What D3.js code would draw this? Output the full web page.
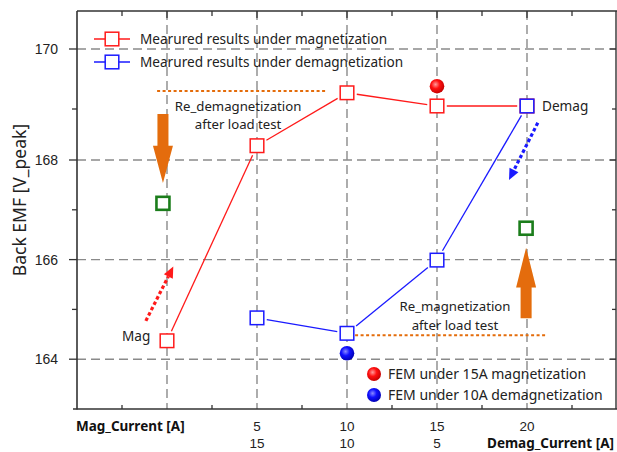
<!DOCTYPE html>
<html><head><meta charset="utf-8">
<script src="https://cdn.jsdelivr.net/npm/d3@7"></script>
<style>
html,body{margin:0;padding:0;background:#fff;}
svg{display:block;}
</style></head>
<body>
<svg id="c" width="617" height="452"></svg>
<script>
// ---- data ----
const catIndex = [0, 1, 2, 3, 4];
const magTickLabels = ["", "5", "10", "15", "20"];
const demagTickLabels = ["", "15", "10", "5", ""];
const magX = [0, 1, 2, 3, 4];
const magValues = [164.37, 168.28, 169.27, 169.05, 169.05];
const demagX = [1, 2, 3, 4];
const demagValues = [164.83, 164.52, 165.99, 169.05];
const greenX = [-0.045, 3.99];
const greenValues = [167.13, 166.63];
const femMagX = [3], femMagValues = [169.38];
const femDemagX = [2], femDemagValues = [164.12];
const yMajor = [164, 166, 168, 170];
const yMinor = [165, 167, 169];
const legendLines = ["Mearured results under magnetization", "Mearured results under demagnetization"];
const legendFem = ["FEM under 15A magnetization", "FEM under 10A demagnetization"];

// ---- scales ----
const svg = d3.select("#c");
const L = 77, R = 616, T = 11, B = 409;
const x = d3.scaleLinear().domain([-1, 5]).range([77, 617]);
const y = d3.scaleLinear().domain([163, 168, 169, 170, 171]).range([409, 160, 109, 49, 11]);

const defs = svg.append("defs");
function ballGrad(id, hi, mid, lo) {
  const g = defs.append("radialGradient").attr("id", id).attr("cx", "40%").attr("cy", "38%").attr("r", "65%");
  g.append("stop").attr("offset", "0%").attr("stop-color", hi);
  g.append("stop").attr("offset", "45%").attr("stop-color", mid);
  g.append("stop").attr("offset", "100%").attr("stop-color", lo);
}
ballGrad("gRed", "#ff9a9a", "#ff1010", "#c00000");
ballGrad("gBlue", "#8a8aff", "#1010ff", "#0000b0");
defs.append("filter").attr("id", "soft").append("feGaussianBlur").attr("stdDeviation", 0.6);

// ---- grid ----
const grid = svg.append("g");
grid.selectAll(".vg").data(catIndex).join("line")
  .attr("x1", d => x(d)).attr("x2", d => x(d)).attr("y1", T).attr("y2", B)
  .attr("stroke", "#8a8a8a").attr("stroke-width", 1.4).attr("stroke-dasharray", "9,5");
grid.selectAll(".hg").data(yMajor).join("line")
  .attr("x1", L).attr("x2", R).attr("y1", d => y(d)).attr("y2", d => y(d))
  .attr("stroke", "#8a8a8a").attr("stroke-width", 1.4).attr("stroke-dasharray", "9,5");

// ---- axes ----
const ax = svg.append("g").attr("stroke", "#333");
ax.append("line").attr("x1", L).attr("x2", L).attr("y1", T).attr("y2", B + 0.5).attr("stroke-width", 1.6);
ax.append("line").attr("x1", 73).attr("x2", R + 1).attr("y1", B).attr("y2", B).attr("stroke-width", 1.6);
ax.append("line").attr("x1", L).attr("x2", R + 1).attr("y1", T).attr("y2", T).attr("stroke-width", 1.4);
ax.append("line").attr("x1", R).attr("x2", R).attr("y1", T).attr("y2", B).attr("stroke-width", 1.4);
// left ticks
ax.selectAll(".ly").data(yMajor).join("line").attr("x1", L - 8).attr("x2", L).attr("y1", d => y(d)).attr("y2", d => y(d)).attr("stroke-width", 1.3);
ax.selectAll(".lym").data(yMinor).join("line").attr("x1", L - 5).attr("x2", L).attr("y1", d => y(d)).attr("y2", d => y(d)).attr("stroke-width", 1.3);
// right ticks (inward)
ax.selectAll(".ry").data(yMajor).join("line").attr("x1", R - 6).attr("x2", R).attr("y1", d => y(d)).attr("y2", d => y(d)).attr("stroke-width", 1.3);
ax.selectAll(".rym").data(yMinor).join("line").attr("x1", R - 4).attr("x2", R).attr("y1", d => y(d)).attr("y2", d => y(d)).attr("stroke-width", 1.3);
// top/bottom ticks
const xMinor = d3.range(-0.5, 5, 1);
ax.selectAll(".tx").data(catIndex).join("line").attr("x1", d => x(d)).attr("x2", d => x(d)).attr("y1", T).attr("y2", T + 7).attr("stroke-width", 1.3);
ax.selectAll(".txm").data(xMinor).join("line").attr("x1", d => x(d)).attr("x2", d => x(d)).attr("y1", T).attr("y2", T + 5).attr("stroke-width", 1.3);
ax.selectAll(".bxm").data(xMinor).join("line").attr("x1", d => x(d)).attr("x2", d => x(d)).attr("y1", B - 4).attr("y2", B).attr("stroke-width", 1.3);

// y tick labels
svg.selectAll(".ylab").data(yMajor).join("text")
  .attr("x", 58).attr("y", d => y(d) + 5).attr("text-anchor", "end")
  .attr("font-family", "Liberation Sans, Arial, sans-serif").attr("font-size", 14).attr("fill", "#222").text(d => d);
// x tick labels
svg.selectAll(".xl1").data(catIndex).join("text")
  .attr("x", d => x(d)).attr("y", 431).attr("text-anchor", "middle")
  .attr("font-family", "Liberation Sans, Arial, sans-serif").attr("font-size", 13.5).attr("fill", "#222").text(d => magTickLabels[d]);
svg.selectAll(".xl2").data(catIndex).join("text")
  .attr("x", d => x(d)).attr("y", 448).attr("text-anchor", "middle")
  .attr("font-family", "Liberation Sans, Arial, sans-serif").attr("font-size", 13.5).attr("fill", "#222").text(d => demagTickLabels[d]);
svg.append("text").attr("x", 76).attr("y", 431).attr("font-family", "Noto Sans, sans-serif").attr("font-weight", "bold")
  .attr("font-size", 13.5).attr("fill", "#111").text("Mag_Current [A]");
svg.append("text").attr("x", 614).attr("y", 448).attr("text-anchor", "end").attr("font-family", "Noto Sans, sans-serif").attr("font-weight", "bold")
  .attr("font-size", 13.5).attr("fill", "#111").text("Demag_Current [A]");
// y axis title
svg.append("text").attr("transform", "translate(26,200) rotate(-90)").attr("text-anchor", "middle")
  .attr("font-family", "Noto Sans, sans-serif").attr("font-size", 17.5).attr("fill", "#222").text("Back EMF [V_peak]");

// ---- series ----
const H = 6.8;
function gapSegs(pts, gap) {
  const segs = [];
  for (let i = 0; i < pts.length - 1; i++) {
    const [x1, y1] = pts[i], [x2, y2] = pts[i + 1];
    const dx = x2 - x1, dy = y2 - y1, len = Math.hypot(dx, dy);
    const ux = dx / len, uy = dy / len;
    const e = H / Math.max(Math.abs(ux), Math.abs(uy)) + gap;
    segs.push([x1 + ux * e, y1 + uy * e, x2 - ux * e, y2 - uy * e]);
  }
  return segs;
}
function drawSeries(xs, vals, color) {
  const pts = xs.map((d, i) => [x(d), y(vals[i])]);
  const g = svg.append("g");
  g.selectAll("line").data(gapSegs(pts, 3)).join("line")
    .attr("x1", d => d[0]).attr("y1", d => d[1]).attr("x2", d => d[2]).attr("y2", d => d[3])
    .attr("stroke", color).attr("stroke-width", 1.3);
  g.selectAll("rect").data(pts).join("rect")
    .attr("x", d => d[0] - H).attr("y", d => d[1] - H).attr("width", 2 * H).attr("height", 2 * H)
    .attr("fill", "#fff").attr("stroke", color).attr("stroke-width", 1.5);
}
drawSeries(magX, magValues, "#ff1a1a");
drawSeries(demagX, demagValues, "#1a1aff");

// green squares
svg.selectAll(".gs").data(greenX).join("rect")
  .attr("x", (d) => x(d) - 6.5).attr("y", (d, i) => y(greenValues[i]) - 6.5).attr("width", 13).attr("height", 13)
  .attr("fill", "#fff").attr("stroke", "#1b7d1b").attr("stroke-width", 2.6);

// FEM balls
svg.selectAll(".fm").data(femMagX).join("circle").attr("cx", d => x(d)).attr("cy", (d, i) => y(femMagValues[i])).attr("r", 7.3).attr("fill", "url(#gRed)");
svg.selectAll(".fd").data(femDemagX).join("circle").attr("cx", d => x(d)).attr("cy", (d, i) => y(femDemagValues[i])).attr("r", 7.3).attr("fill", "url(#gBlue)");

// ---- annotations ----
const orange = "#e46c0a";
svg.append("line").attr("x1", x(-0.11)).attr("x2", x(1.77)).attr("y1", y(169.3)).attr("y2", y(169.3))
  .attr("stroke", orange).attr("stroke-width", 2).attr("stroke-dasharray", "3,2.5");
svg.append("line").attr("x1", x(2.09)).attr("x2", x(4.22)).attr("y1", y(164.48)).attr("y2", y(164.48))
  .attr("stroke", orange).attr("stroke-width", 2).attr("stroke-dasharray", "3,2.5");

function blockArrow(cx, yTail, yBase, yTip) {
  const sw = 5.5, hw = 10;
  const p = [[cx - sw, yTail], [cx + sw, yTail], [cx + sw, yBase], [cx + hw, yBase], [cx, yTip], [cx - hw, yBase], [cx - sw, yBase]];
  svg.append("path").attr("d", "M" + p.map(q => q.join(",")).join("L") + "Z").attr("fill", orange).attr("filter", "url(#soft)");
}
blockArrow(x(-0.045), y(168.9), y(168.28), y(167.54));
blockArrow(x(3.99), y(164.82), y(165.44), y(166.24));

function dotArrow(x1, y1, x2, y2, color) {
  const dx = x2 - x1, dy = y2 - y1, len = Math.hypot(dx, dy), ux = dx / len, uy = dy / len;
  const hl = 11, hw = 5;
  const bx = x2 - ux * hl, by = y2 - uy * hl;
  svg.append("line").attr("x1", x1).attr("y1", y1).attr("x2", bx).attr("y2", by)
    .attr("stroke", color).attr("stroke-width", 3.2).attr("stroke-dasharray", "3.5,2.5");
  svg.append("path").attr("d", `M${x2},${y2}L${bx - uy * hw},${by + ux * hw}L${bx + uy * hw},${by - ux * hw}Z`).attr("fill", color);
}
dotArrow(x(-0.235), y(164.77), x(0.07), y(165.86), "#ff1a1a");
dotArrow(x(4.12), y(168.73), x(3.8), y(167.6), "#1a1aff");

const tf = "Noto Sans, sans-serif";
function label(tx, ty, s, anchor, size) {
  svg.append("text").attr("x", tx).attr("y", ty).attr("text-anchor", anchor || "middle")
    .attr("font-family", tf).attr("font-size", size || 13.2).attr("fill", "#222").text(s);
}
label(x(0.79), y(169) + 1.5, "Re_demagnetization");
label(x(0.79), y(169) + 20, "after load test");
label(x(3.2), y(164.96), "Re_magnetization");
label(x(3.2), y(164.96) + 18.5, "after load test");
label(542, y(169.05) + 5, "Demag", "start", 13.6);
label(122, y(164.46) + 5, "Mag", "start", 13.6);

// ---- legends ----
const lg = svg.append("g");
const legColors = ["#ff1a1a", "#1a1aff"];
legendLines.forEach((s, i) => {
  const ly = 39 + i * 23;
  lg.append("line").attr("x1", 94).attr("x2", 130).attr("y1", ly).attr("y2", ly).attr("stroke", legColors[i]).attr("stroke-width", 1.3);
  lg.append("rect").attr("x", 112 - H).attr("y", ly - H).attr("width", 2 * H).attr("height", 2 * H).attr("fill", "#fff").attr("stroke", legColors[i]).attr("stroke-width", 1.5);
  lg.append("text").attr("x", 140).attr("y", ly + 5).attr("font-family", tf).attr("font-size", 13.6).attr("fill", "#222").text(s);
});
const femGrads = ["url(#gRed)", "url(#gBlue)"];
legendFem.forEach((s, i) => {
  const ly = 374 + i * 21;
  lg.append("circle").attr("cx", 374).attr("cy", ly).attr("r", 7).attr("fill", femGrads[i]);
  lg.append("text").attr("x", 388).attr("y", ly + 5).attr("font-family", tf).attr("font-size", 14).attr("fill", "#222").text(s);
});
</script>
</body></html>
